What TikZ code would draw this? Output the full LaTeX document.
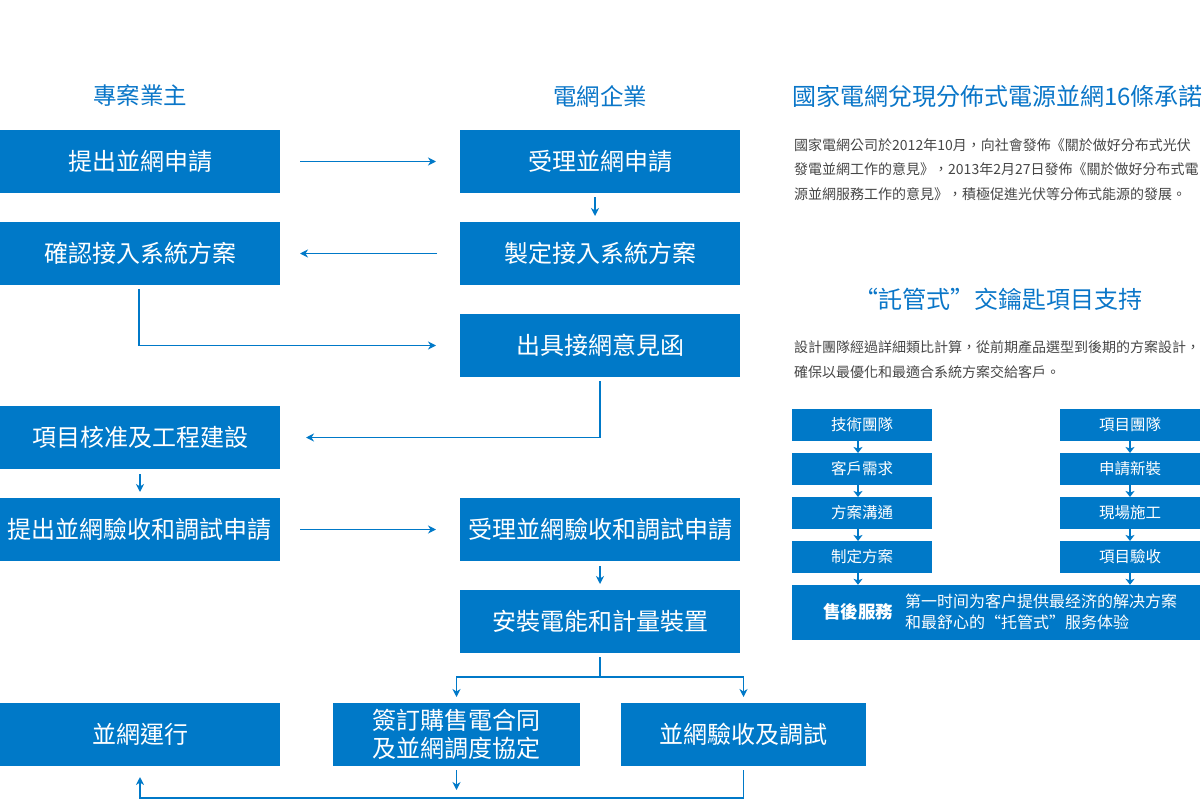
\documentclass[tikz,border=0pt]{standalone}
\usepackage{fontspec}
\setmainfont{Noto Sans CJK TC}
\usetikzlibrary{arrows.meta}
\definecolor{boxblue}{RGB}{0,121,200}
\definecolor{headblue}{RGB}{10,118,200}
\definecolor{txtgray}{RGB}{70,70,70}
\tikzset{
  mainbox/.style={rectangle, fill=boxblue, text=white, inner sep=0pt, outer sep=0pt,
    minimum width=280pt, minimum height=63pt, align=center,
    font=\fontsize{24}{28}\selectfont},
  smallbox/.style={rectangle, fill=boxblue, text=white, inner sep=0pt, outer sep=0pt,
    minimum width=140pt, minimum height=32pt, font=\fontsize{15.5}{18}\selectfont},
  header/.style={text=headblue, inner sep=0pt, font=\fontsize{23.5}{26}\selectfont},
  title/.style={text=headblue, inner sep=0pt, font=\fontsize{24}{28}\selectfont},
  para/.style={text=txtgray, inner sep=0pt, align=left, font=\fontsize{14}{24.5}\selectfont},
  arr/.style={draw=boxblue, line width=1.8pt, -{Stealth[length=8pt,width=8pt,inset=2.5pt]}},
  plain/.style={draw=boxblue, line width=1.8pt},
  sarr/.style={draw=boxblue, line width=2.2pt, -{Stealth[length=6pt,width=9pt,inset=1.5pt]}}
}
\begin{document}
\begin{tikzpicture}[x=1pt,y=-1pt]
\useasboundingbox (0,0) rectangle (1202,800);
% headers
\node[header] (h1) at (140,96) {專案業主};
\node[header] (h2) at (600,96) {電網企業};
% left column
\node[mainbox] (L1) at (140,161.5) {提出並網申請};
\node[mainbox] (L2) at (140,253.5) {確認接入系統方案};
\node[mainbox] (L3) at (140,437.5) {項目核准及工程建設};
\node[mainbox] (L4) at (140,529.5) {提出並網驗收和調試申請};
% middle column
\node[mainbox] (M1) at (600,161.5) {受理並網申請};
\node[mainbox] (M2) at (600,253.5) {製定接入系統方案};
\node[mainbox] (M3) at (600,345.5) {出具接網意見函};
\node[mainbox] (M4) at (600,529.5) {受理並網驗收和調試申請};
\node[mainbox] (M5) at (600,621.5) {安裝電能和計量裝置};
% bottom row
\node[mainbox] (B1) at (140,734.5) {並網運行};
\node[mainbox, minimum width=247pt] (B2) at (456.5,734.5) {簽訂購售電合同\\及並網調度協定};
\node[mainbox, minimum width=245pt] (B3) at (743.5,734.5) {並網驗收及調試};
% connectors
\draw[arr, shorten <=20pt, shorten >=24pt] (L1) -- (M1);
\draw[arr, shorten <=23pt, shorten >=20pt] (M2) -- (L2);
\draw[arr, shorten <=20pt, shorten >=24pt] (L4) -- (M4);
\draw[arr, shorten <=4pt, shorten >=6pt] ([xshift=-5pt]M1.south) -- ([xshift=-5pt]M2.north);
\draw[arr, shorten <=5pt, shorten >=6pt] (L3) -- (L4);
\draw[arr, shorten <=5pt, shorten >=6pt] (M4) -- (M5);
\draw[arr] ([xshift=-1pt,yshift=-4pt]L2.south) |- ([xshift=-24pt]M3.west);
\draw[arr] ([yshift=-4pt]M3.south) |- ([xshift=26pt]L3.east);
\draw[plain] ([yshift=-4pt]M5.south) -- ++(0,20) coordinate (sp);
\draw[arr] (sp) -| ([yshift=6pt]B2.north);
\draw[arr] (sp) -| ([yshift=6pt]B3.north);
\draw[arr] ([yshift=-4pt]B2.south) -- ++(0,20) coordinate (b2end);
\draw[arr] ([yshift=-4pt]B3.south) -- ++(0,28) -| ([yshift=-11pt]B1.south);
% right panel
\node[title, anchor=west] (t1) at (792,96) {國家電網兌現分佈式電源並網16條承諾};
\node[para, anchor=west] (p1) at (794,169.5) {國家電網公司於2012年10月，向社會發佈《關於做好分布式光伏\\發電並網工作的意見》，2013年2月27日發佈《關於做好分布式電\\源並網服務工作的意見》，積極促進光伏等分佈式能源的發展。};
\node[title] (t2) at (998,299) {“託管式”交鑰匙項目支持};
\node[para, anchor=west] (p2) at (794,359.5) {設計團隊經過詳細類比計算，從前期產品選型到後期的方案設計，\\確保以最優化和最適合系統方案交給客戶。};
\node[smallbox] (T1) at (862,425) {技術團隊};
\node[smallbox] (T2) at (862,469) {客戶需求};
\node[smallbox] (T3) at (862,513) {方案溝通};
\node[smallbox] (T4) at (862,557) {制定方案};
\node[smallbox] (R1) at (1130,425) {項目團隊};
\node[smallbox] (R2) at (1130,469) {申請新裝};
\node[smallbox] (R3) at (1130,513) {現場施工};
\node[smallbox] (R4) at (1130,557) {項目驗收};
\node[rectangle, fill=boxblue, inner sep=0pt, minimum width=408pt, minimum height=55pt] (S) at (996,612.5) {};
\node[text=white, inner sep=0pt, font=\fontsize{17.5}{20}\selectfont\bfseries] (Sa) at (858,612) {售後服務};
\node[text=white, inner sep=0pt, anchor=west, align=left, font=\fontsize{16}{21}\selectfont] (Sb) at (905,612) {第一时间为客户提供最经济的解决方案\\和最舒心的“托管式”服务体验};
\draw[sarr] ([xshift=-4pt]T1.south) -- ([xshift=-4pt]T2.north);
\draw[sarr] ([xshift=-4pt]T2.south) -- ([xshift=-4pt]T3.north);
\draw[sarr] ([xshift=-4pt]T3.south) -- ([xshift=-4pt]T4.north);
\draw[sarr] ([xshift=-4pt]T4.south) -- ([xshift=-4pt]T4.south |- S.north);
\draw[sarr] (R1) -- (R2);
\draw[sarr] (R2) -- (R3);
\draw[sarr] (R3) -- (R4);
\draw[sarr] (R4.south) -- (R4.south |- S.north);
\end{tikzpicture}
\end{document}
